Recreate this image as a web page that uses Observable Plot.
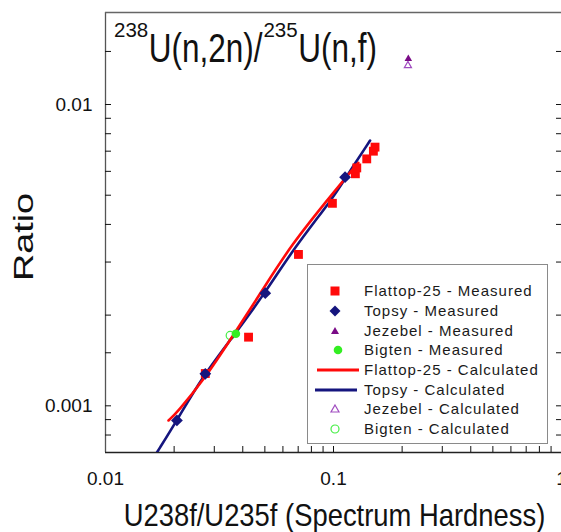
<!DOCTYPE html>
<html><head><meta charset="utf-8">
<script src="https://cdn.jsdelivr.net/npm/d3@7"></script>
<script src="https://cdn.jsdelivr.net/npm/@observablehq/plot@0.6"></script>
<style>
html,body{margin:0;padding:0;background:#fff;overflow:hidden;}
#wrap{position:relative;width:561px;height:532px;overflow:hidden;}
#legend{position:absolute;left:307px;top:264px;width:239px;height:178px;border:1px solid #8a8a8a;background:#fff;
  font-family:"Liberation Sans",Arial,sans-serif;font-size:15px;letter-spacing:1px;color:#1a1a1a;}
.row{position:absolute;left:0;height:20px;width:100%;}
.row svg{position:absolute;left:0;top:0;}
.row span{position:absolute;left:56px;top:0;line-height:20px;white-space:nowrap;}
</style>
</head><body>
<div id="wrap"></div>
<script>
// ---- axes ----
const xDomain = [0.01, 1];
const yDomain = [0.0007, 0.0202];
const xTickMarks = [0.02,0.03,0.04,0.05,0.06,0.07,0.08,0.09,0.1,0.2,0.3,0.4,0.5,0.6,0.7,0.8,0.9];
const xTickLabels = [0.01, 0.1, 1];
const yTickMarks = [0.0008,0.0009,0.001,0.0015,0.002,0.003,0.004,0.005,0.006,0.007,0.008,0.009,0.01,0.015];
const yTickLabels = [0.001, 0.01];

// ---- measured ----
const flattopMeasX = [0.0274, 0.0424, 0.0702, 0.0989, 0.1247, 0.1265, 0.1399, 0.1496, 0.1521];
const flattopMeasY = [0.00128, 0.00169, 0.00318, 0.00470, 0.00589, 0.00616, 0.00660, 0.00700, 0.00722];
const topsyMeasX = [0.02057, 0.0274, 0.0502, 0.1124];
const topsyMeasY = [0.000894, 0.001277, 0.002364, 0.005737];
const jezebelMeasX = [0.2129];
const jezebelMeasY = [0.01418];
const bigtenMeasX = [0.03731];
const bigtenMeasY = [0.001734];

// ---- calculated ----
const flattopCalcX = [0.0189, 0.02057, 0.02691, 0.03705, 0.0485, 0.06455, 0.1016, 0.1285];
const flattopCalcY = [0.000894, 0.00095, 0.001213, 0.001755, 0.00240, 0.003390, 0.005183, 0.006404];
const topsyCalcX = [0.01681, 0.02057, 0.02648, 0.03705, 0.0502, 0.06675, 0.0999, 0.1124, 0.1447];
const topsyCalcY = [0.0007, 0.000894, 0.001244, 0.001734, 0.002377, 0.003319, 0.004913, 0.005681, 0.007595];
const jezebelCalcX = [0.2120];
const jezebelCalcY = [0.01347];
const bigtenCalcX = [0.03522];
const bigtenCalcY = [0.001712];

const pts = (X, Y) => X.map((x, i) => ({x, y: Y[i]}));

const RED = "#ff0a0a", NAVY = "#15157e", PURPLE = "#7a0a86", PURPLE2 = "#a04cc0", GREEN = "#33ee22", GREEN2 = "#44ee44";

const chart = Plot.plot({
  width: 561, height: 532,
  marginLeft: 105, marginRight: 0, marginTop: 12, marginBottom: 80,
  x: {type: "log", domain: xDomain},
  y: {type: "log", domain: yDomain},
  style: {fontFamily: "'Liberation Sans', Arial, sans-serif", background: "white", color: "#111"},
  marks: [
    Plot.ruleX(xDomain.slice(0, 1), {stroke: "#555", strokeWidth: 1.3}),
    Plot.ruleY(yDomain.slice(1), {stroke: "#666", strokeWidth: 1.6}),
    Plot.ruleY(yDomain.slice(0, 1), {stroke: "#222", strokeWidth: 1.5}),
    Plot.axisX({ticks: xTickMarks, tickSize: -6, tickFormat: () => "", label: null, anchor: "bottom"}),
    Plot.axisX({ticks: xTickLabels, tickSize: 0, tickPadding: 19, tickFormat: d => String(d), fontSize: 19, label: null, anchor: "bottom"}),
    Plot.axisY({ticks: yTickMarks, tickSize: -6, tickFormat: () => "", label: null, anchor: "left"}),
    Plot.axisY({ticks: yTickMarks, tickSize: -6, tickFormat: () => "", label: null, anchor: "right"}),
    Plot.axisY({ticks: yTickLabels, tickSize: 0, tickPadding: 13, tickFormat: d => String(d), fontSize: 19, label: null, anchor: "left"}),
    Plot.dot(pts(bigtenCalcX, bigtenCalcY), {x: "x", y: "y", symbol: "circle", r: 4, stroke: GREEN2, strokeWidth: 1.2, fill: "none"}),
    Plot.dot(pts(jezebelCalcX, jezebelCalcY), {x: "x", y: "y", symbol: "triangle2", r: 3.4, stroke: PURPLE2, strokeWidth: 1.2, fill: "none"}),
    Plot.line(pts(topsyCalcX, topsyCalcY), {x: "x", y: "y", stroke: NAVY, strokeWidth: 2.6, curve: "basis", clip: true}),
    Plot.line(pts(flattopCalcX, flattopCalcY), {x: "x", y: "y", stroke: RED, strokeWidth: 2.6, curve: "basis", clip: true}),
    Plot.dot(pts(flattopMeasX, flattopMeasY), {x: "x", y: "y", symbol: "square", r: 5, fill: RED}),
    Plot.dot(pts(topsyMeasX, topsyMeasY), {x: "x", y: "y", symbol: "diamond2", r: 5.3, fill: NAVY, stroke: "none"}),
    Plot.dot(pts(bigtenMeasX, bigtenMeasY), {x: "x", y: "y", symbol: "circle", r: 4.3, fill: GREEN}),
    Plot.dot(pts(jezebelMeasX, jezebelMeasY), {x: "x", y: "y", symbol: "triangle", r: 2.8, fill: PURPLE})
  ]
});

const wrap = document.getElementById("wrap");
wrap.appendChild(chart);
const svg = d3.select(chart);
const FONT = "'Liberation Sans', Arial, sans-serif";

// ---- title with superscripts ----
const titleParts = [
  {t: "238", sup: true},
  {t: "U(n,2n)/", sup: false},
  {t: "235", sup: true},
  {t: "U(n,f)", sup: false}
];
let tx = 114;
const tg = svg.append("g").attr("font-family", FONT).attr("fill", "#111").attr("text-anchor", "start");
for (const p of titleParts) {
  const el = tg.append("text").attr("text-anchor", "start").text(p.t);
  if (p.sup) {
    el.attr("font-size", 20.5).attr("transform", `translate(${tx},36.7)`);
    tx += el.node().getComputedTextLength() + 0.5;
  } else {
    el.attr("font-size", 31.5).attr("transform", `translate(${tx},62) scale(1,1.3)`);
    tx += el.node().getComputedTextLength() + 1;
  }
}

// ---- axis titles ----
svg.append("text").attr("font-family", FONT).attr("font-size", 28).attr("fill", "#111")
  .attr("text-anchor", "middle").attr("transform", "translate(33,237) rotate(-90) scale(1.35,1)").text("Ratio");
svg.append("text").attr("font-family", FONT).attr("font-size", 27.4).attr("fill", "#111")
  .attr("text-anchor", "middle").attr("transform", "translate(334.5,526) scale(1,1.12)").text("U238f/U235f (Spectrum Hardness)");

// ---- legend ----
const legendLabels = ["Flattop-25 - Measured", "Topsy - Measured", "Jezebel - Measured", "Bigten - Measured",
  "Flattop-25 - Calculated", "Topsy - Calculated", "Jezebel - Calculated", "Bigten - Calculated"];
const legendKinds = ["square", "diamond", "triangle", "circleFill", "lineRed", "lineNavy", "triangleOpen", "circleOpen"];
const legend = d3.select(wrap).append("div").attr("id", "legend");
legendLabels.forEach((lab, i) => {
  const cy = 26.2 + i * 19.7;
  const row = legend.append("div").attr("class", "row").style("top", (cy - 10) + "px");
  const s = row.append("svg").attr("width", 56).attr("height", 20);
  const k = legendKinds[i];
  const cx = 27;
  if (k === "square") s.append("rect").attr("x", cx - 4.5).attr("y", 10 - 4.5).attr("width", 9).attr("height", 9).attr("fill", RED);
  if (k === "diamond") s.append("path").attr("d", `M${cx},4.5L${cx + 5.5},10L${cx},15.5L${cx - 5.5},10Z`).attr("fill", NAVY);
  if (k === "triangle") s.append("path").attr("d", `M${cx},6L${cx + 4},13L${cx - 4},13Z`).attr("fill", PURPLE);
  if (k === "circleFill") s.append("circle").attr("cx", cx + 3).attr("cy", 10).attr("r", 4.3).attr("fill", GREEN);
  if (k === "lineRed") s.append("line").attr("x1", 9).attr("x2", 51).attr("y1", 10).attr("y2", 10).attr("stroke", RED).attr("stroke-width", 3);
  if (k === "lineNavy") s.append("line").attr("x1", 7).attr("x2", 49).attr("y1", 10).attr("y2", 10).attr("stroke", NAVY).attr("stroke-width", 3);
  if (k === "triangleOpen") s.append("path").attr("d", `M${cx},6L${cx + 4},13L${cx - 4},13Z`).attr("fill", "none").attr("stroke", PURPLE2).attr("stroke-width", 1.2);
  if (k === "circleOpen") s.append("circle").attr("cx", cx).attr("cy", 10).attr("r", 4).attr("fill", "none").attr("stroke", GREEN2).attr("stroke-width", 1.2);
  row.append("span").text(lab);
});
</script>
</body></html>
